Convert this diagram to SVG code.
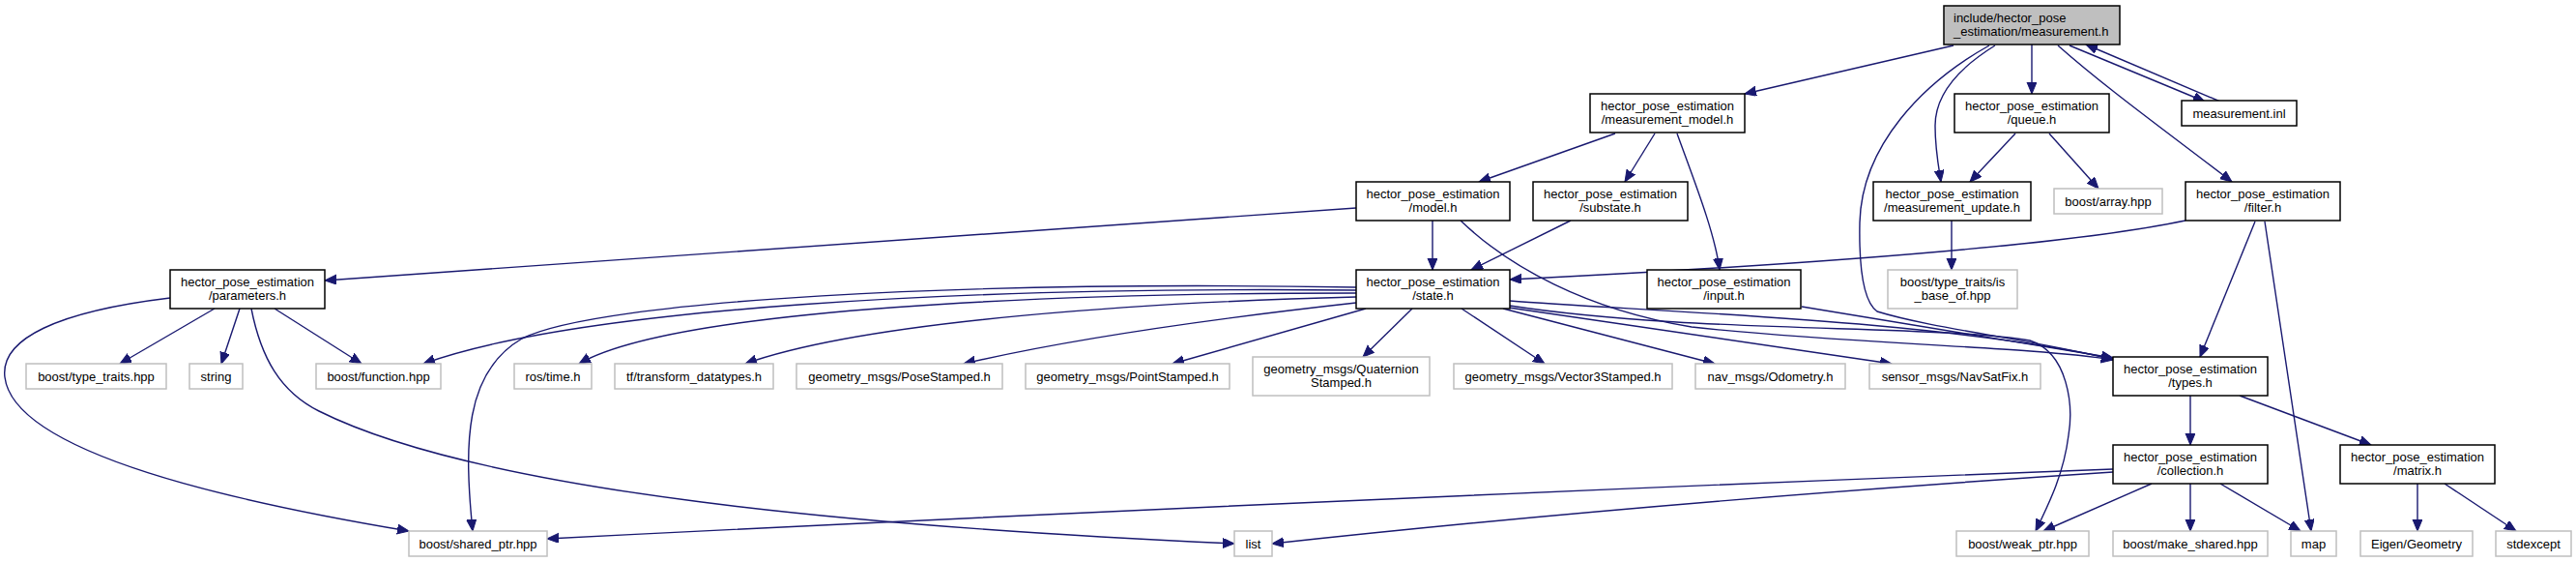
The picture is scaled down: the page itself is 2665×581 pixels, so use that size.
<svg xmlns="http://www.w3.org/2000/svg" width="2665" height="581" viewBox="0 0 2665 581">
<defs>
<style>
.n rect{fill:#ffffff;stroke:#000000;stroke-width:1.5}
.x rect{fill:#ffffff;stroke:#bfbfbf;stroke-width:1.5}
.r rect{fill:#bfbfbf;stroke:#000000;stroke-width:1.5}
text{font-family:"Liberation Sans",Arial,Helvetica,sans-serif;font-size:13px;fill:#000000;text-anchor:middle}
.r text{text-anchor:start}
#edges path{fill:none;stroke:#191970;stroke-width:1.4;marker-end:url(#ah)}
</style>
<marker id="ah" markerUnits="userSpaceOnUse" markerWidth="14" markerHeight="12" refX="12" refY="5" orient="auto">
<path d="M0,0 L12,5 L0,10 z" fill="#191970" stroke="#191970" stroke-width="1"/>
</marker>
</defs>
<rect width="2665" height="581" fill="#ffffff"/>
<g id="edges">
<path d="M2021,47 L1805,97"/>
<path d="M2102,46 L2102,97"/>
<path d="M2064,47 C2030,68 2002,95 2002,130 C2002,155 2006,175 2008,188"/>
<path d="M2058,47 C1990,85 1926,150 1924,230 C1923,280 1928,312 1942,322 C2000,340 2110,352 2186,372"/>
<path d="M2129,47 C2180,92 2240,135 2309,188"/>
<path d="M2141,47 L2281,105"/>
<path d="M2297,105 L2158,46"/>
<path d="M1671,138 L1530,188"/>
<path d="M1712,138 L1681,188"/>
<path d="M1735,138 C1752,185 1774,240 1779,279"/>
<path d="M2085,138 L2038,188"/>
<path d="M2120,138 L2171,195"/>
<path d="M2019,228 L2019,279"/>
<path d="M1482,228 L1482,279"/>
<path d="M1625,228 L1522,279"/>
<path d="M1403,215 L336,290"/>
<path d="M1511,228 C1560,275 1640,320 1750,338 C1900,355 2100,358 2186,372"/>
<path d="M2261,228 Q2100,262 1562,289"/>
<path d="M2333,229 L2276,369"/>
<path d="M2343,229 L2391,549"/>
<path d="M1864,317 L2186,370"/>
<path d="M1562,311 C1700,322 2000,330 2186,371"/>
<path d="M1562,316 C1750,345 2000,335 2100,352 C2140,365 2145,420 2140,450 C2135,490 2120,520 2106,549"/>
<path d="M1561,318 L1957,376"/>
<path d="M1555,319 L1774,376"/>
<path d="M1512,319 L1598,376"/>
<path d="M1461,319 L1410,369"/>
<path d="M1413,319 L1213,376"/>
<path d="M1403,313 C1250,330 1100,352 997,376"/>
<path d="M1403,307 C1200,312 900,330 771,376"/>
<path d="M1403,303 C1100,303 700,318 599,376"/>
<path d="M1403,300 C1000,296 600,318 438,376"/>
<path d="M1403,297 C1000,290 620,310 540,350 C480,385 480,460 489,549"/>
<path d="M222,319 L124,376"/>
<path d="M248,319 L229,376"/>
<path d="M284,319 L374,376"/>
<path d="M176,308 C60,322 0,350 5,390 C15,470 250,520 423,549"/>
<path d="M260,319 C270,370 290,405 330,425 C500,510 900,545 1277,562"/>
<path d="M2186,485 Q1400,515 566,557"/>
<path d="M2186,488 Q1700,520 1316,562"/>
<path d="M2266,409 L2266,460"/>
<path d="M2317,409 L2453,460"/>
<path d="M2226,500 L2114,549"/>
<path d="M2266,500 L2266,549"/>
<path d="M2297,500 L2380,549"/>
<path d="M2501,500 L2501,549"/>
<path d="M2529,500 L2603,549"/>
</g>
<g id="n0" class="r"><rect x="2011" y="6" width="182" height="40"/><text x="2021" y="22.5">include/hector_pose</text><text x="2021" y="36.5">_estimation/measurement.h</text></g>
<g id="n1" class="n"><rect x="1645" y="97" width="160" height="40"/><text x="1725" y="113.5">hector_pose_estimation</text><text x="1725" y="127.5">/measurement_model.h</text></g>
<g id="n2" class="n"><rect x="2022" y="97" width="160" height="40"/><text x="2102" y="113.5">hector_pose_estimation</text><text x="2102" y="127.5">/queue.h</text></g>
<g id="n3" class="n"><rect x="2257" y="104" width="119" height="26"/><text x="2316.5" y="121.5">measurement.inl</text></g>
<g id="n4" class="n"><rect x="1403" y="188" width="159" height="40"/><text x="1482.5" y="204.5">hector_pose_estimation</text><text x="1482.5" y="218.5">/model.h</text></g>
<g id="n5" class="n"><rect x="1586" y="188" width="160" height="40"/><text x="1666" y="204.5">hector_pose_estimation</text><text x="1666" y="218.5">/substate.h</text></g>
<g id="n6" class="n"><rect x="1938" y="188" width="163" height="40"/><text x="2019.5" y="204.5">hector_pose_estimation</text><text x="2019.5" y="218.5">/measurement_update.h</text></g>
<g id="n7" class="x"><rect x="2125" y="195" width="112" height="26"/><text x="2181" y="212.5">boost/array.hpp</text></g>
<g id="n8" class="n"><rect x="2261" y="188" width="160" height="40"/><text x="2341" y="204.5">hector_pose_estimation</text><text x="2341" y="218.5">/filter.h</text></g>
<g id="n9" class="n"><rect x="176" y="279" width="160" height="40"/><text x="256" y="295.5">hector_pose_estimation</text><text x="256" y="309.5">/parameters.h</text></g>
<g id="n10" class="n"><rect x="1403" y="279" width="159" height="40"/><text x="1482.5" y="295.5">hector_pose_estimation</text><text x="1482.5" y="309.5">/state.h</text></g>
<g id="n11" class="n"><rect x="1704" y="279" width="159" height="40"/><text x="1783.5" y="295.5">hector_pose_estimation</text><text x="1783.5" y="309.5">/input.h</text></g>
<g id="n12" class="x"><rect x="1953" y="279" width="134" height="40"/><text x="2020" y="295.5">boost/type_traits/is</text><text x="2020" y="309.5">_base_of.hpp</text></g>
<g id="n13" class="x"><rect x="27" y="376" width="145" height="26"/><text x="99.5" y="393.5">boost/type_traits.hpp</text></g>
<g id="n14" class="x"><rect x="196" y="376" width="55" height="26"/><text x="223.5" y="393.5">string</text></g>
<g id="n15" class="x"><rect x="327" y="376" width="129" height="26"/><text x="391.5" y="393.5">boost/function.hpp</text></g>
<g id="n16" class="x"><rect x="532" y="376" width="80" height="26"/><text x="572" y="393.5">ros/time.h</text></g>
<g id="n17" class="x"><rect x="636" y="376" width="164" height="26"/><text x="718" y="393.5">tf/transform_datatypes.h</text></g>
<g id="n18" class="x"><rect x="824" y="376" width="213" height="26"/><text x="930.5" y="393.5">geometry_msgs/PoseStamped.h</text></g>
<g id="n19" class="x"><rect x="1061" y="376" width="211" height="26"/><text x="1166.5" y="393.5">geometry_msgs/PointStamped.h</text></g>
<g id="n20" class="x"><rect x="1296" y="369" width="183" height="40"/><text x="1387.5" y="385.5">geometry_msgs/Quaternion</text><text x="1387.5" y="399.5">Stamped.h</text></g>
<g id="n21" class="x"><rect x="1504" y="376" width="226" height="26"/><text x="1617" y="393.5">geometry_msgs/Vector3Stamped.h</text></g>
<g id="n22" class="x"><rect x="1754" y="376" width="155" height="26"/><text x="1831.5" y="393.5">nav_msgs/Odometry.h</text></g>
<g id="n23" class="x"><rect x="1934" y="376" width="177" height="26"/><text x="2022.5" y="393.5">sensor_msgs/NavSatFix.h</text></g>
<g id="n24" class="n"><rect x="2186" y="369" width="160" height="40"/><text x="2266" y="385.5">hector_pose_estimation</text><text x="2266" y="399.5">/types.h</text></g>
<g id="n25" class="n"><rect x="2186" y="460" width="160" height="40"/><text x="2266" y="476.5">hector_pose_estimation</text><text x="2266" y="490.5">/collection.h</text></g>
<g id="n26" class="n"><rect x="2421" y="460" width="160" height="40"/><text x="2501" y="476.5">hector_pose_estimation</text><text x="2501" y="490.5">/matrix.h</text></g>
<g id="n27" class="x"><rect x="423" y="549" width="143" height="26"/><text x="494.5" y="566.5">boost/shared_ptr.hpp</text></g>
<g id="n28" class="x"><rect x="1277" y="549" width="39" height="26"/><text x="1296.5" y="566.5">list</text></g>
<g id="n29" class="x"><rect x="2024" y="549" width="137" height="26"/><text x="2092.5" y="566.5">boost/weak_ptr.hpp</text></g>
<g id="n30" class="x"><rect x="2186" y="549" width="160" height="26"/><text x="2266" y="566.5">boost/make_shared.hpp</text></g>
<g id="n31" class="x"><rect x="2370" y="549" width="47" height="26"/><text x="2393.5" y="566.5">map</text></g>
<g id="n32" class="x"><rect x="2442" y="549" width="116" height="26"/><text x="2500" y="566.5">Eigen/Geometry</text></g>
<g id="n33" class="x"><rect x="2582" y="549" width="78" height="26"/><text x="2621" y="566.5">stdexcept</text></g>
</svg>
